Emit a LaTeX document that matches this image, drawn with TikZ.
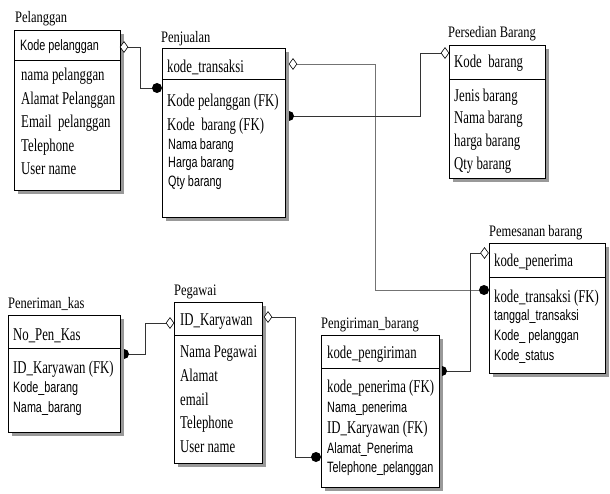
\documentclass[tikz,border=0pt]{standalone}
\usepackage{fontspec}
\newfontfamily\ttlf[FakeStretch=0.78]{Liberation Serif}
\newfontfamily\serf[FakeStretch=0.71]{Liberation Serif}
\newfontfamily\sanf[FakeStretch=0.72]{Liberation Sans}
\usetikzlibrary{shadows,shapes.geometric}
\begin{document}
\begin{tikzpicture}[x=1pt,y=-1pt,
 ent/.style={draw, line width=0.8pt, fill=white, anchor=north west, inner sep=0,
   drop shadow={shadow xshift=4pt, shadow yshift=-4pt, fill=black!40, opacity=1}},
 ttl/.style={anchor=base west, inner sep=0, font=\ttlf\fontsize{16}{16}\selectfont},
 sr/.style={anchor=base west, inner sep=0, font=\serf\fontsize{18}{18}\selectfont},
 ss/.style={anchor=base west, inner sep=0, font=\sanf\fontsize{15}{15}\selectfont},
 conn/.style={line width=0.6pt, black!80},
 diam/.style={diamond, draw, fill=white, line width=0.6pt, inner sep=0, minimum width=8pt, minimum height=11pt},
 fdot/.style={circle, fill=black, inner sep=0, minimum size=10pt},
]
\useasboundingbox (0,0) rectangle (610,494);

% ---------- entity boxes ----------
\node[ent, minimum width=106pt, minimum height=160pt] (pel) at (14,30) {};
\draw[line width=0.8pt] (14,60) -- (120,60);
\node[ent, minimum width=123pt, minimum height=169pt] (pen) at (162,48) {};
\draw[line width=0.8pt] (162,79) -- (285,79);
\node[ent, minimum width=96pt, minimum height=133pt] (per) at (449,45) {};
\draw[line width=0.8pt] (449,79) -- (545,79);
\node[ent, minimum width=116pt, minimum height=130pt] (pem) at (489,243) {};
\draw[line width=0.8pt] (489,277) -- (605,277);
\node[ent, minimum width=118pt, minimum height=152pt] (pgr) at (321,335) {};
\draw[line width=0.8pt] (321,368) -- (439,368);
\node[ent, minimum width=88pt, minimum height=161pt] (peg) at (174,302) {};
\draw[line width=0.8pt] (174,335) -- (262,335);
\node[ent, minimum width=112pt, minimum height=117pt] (kas) at (8,315) {};
\draw[line width=0.8pt] (8,348) -- (120,348);

% ---------- Pelanggan ----------
\node[ttl] (t1) at (15,23) {Pelanggan};
\node[ss] (t1h) at (20,51) {Kode pelanggan};
\node[sr] (t1a) at (21,81) {nama pelanggan};
\node[sr] (t1b) at (21,104.5) {Alamat Pelanggan};
\node[sr] (t1c) at (21,128) {Email\ \ pelanggan};
\node[sr] (t1d) at (21,151.5) {Telephone};
\node[sr] (t1e) at (21,175) {User name};

% ---------- Penjualan ----------
\node[ttl] (t2) at (161,43) {Penjualan};
\node[sr] (t2h) at (167,73) {kode\_transaksi};
\node[sr] (t2a) at (167,107) {Kode pelanggan (FK)};
\node[sr] (t2b) at (167,131) {Kode\ \ barang (FK)};
\node[ss] (t2c) at (168,150) {Nama barang};
\node[ss] (t2d) at (168,168) {Harga barang};
\node[ss] (t2e) at (168,187) {Qty barang};

% ---------- Persedian Barang ----------
\node[ttl] (t3) at (448,38) {Persedian Barang};
\node[sr] (t3h) at (454,68) {Kode\ \ barang};
\node[sr] (t3a) at (454,102) {Jenis barang};
\node[sr] (t3b) at (454,124) {Nama barang};
\node[sr] (t3c) at (454,147) {harga barang};
\node[sr] (t3d) at (454,170) {Qty barang};

% ---------- Pemesanan barang ----------
\node[ttl] (t4) at (489,237) {Pemesanan barang};
\node[sr] (t4h) at (494,267) {kode\_penerima};
\node[sr] (t4a) at (494,302) {kode\_transaksi (FK)};
\node[ss] (t4b) at (494,320) {tanggal\_transaksi};
\node[ss] (t4c) at (494,340) {Kode\_ pelanggan};
\node[ss] (t4d) at (494,360) {Kode\_status};

% ---------- Pengiriman_barang ----------
\node[ttl] (t5) at (321,328) {Pengiriman\_barang};
\node[sr] (t5h) at (327,358) {kode\_pengiriman};
\node[sr] (t5a) at (327,392) {kode\_penerima (FK)};
\node[ss] (t5b) at (327,412) {Nama\_penerima};
\node[sr] (t5c) at (327,433) {ID\_Karyawan (FK)};
\node[ss] (t5d) at (327,453) {Alamat\_Penerima};
\node[ss] (t5e) at (327,472) {Telephone\_pelanggan};

% ---------- Pegawai ----------
\node[ttl] (t6) at (174,295) {Pegawai};
\node[sr] (t6h) at (180,325) {ID\_Karyawan};
\node[sr] (t6a) at (180,357) {Nama Pegawai};
\node[sr] (t6b) at (180,381) {Alamat};
\node[sr] (t6c) at (180,405) {email};
\node[sr] (t6d) at (180,428) {Telephone};
\node[sr] (t6e) at (180,452) {User name};

% ---------- Peneriman_kas ----------
\node[ttl] (t7) at (8,308) {Peneriman\_kas};
\node[sr] (t7h) at (13,340) {No\_Pen\_Kas};
\node[sr] (t7a) at (13,373) {ID\_Karyawan (FK)};
\node[ss] (t7b) at (13,392) {Kode\_barang};
\node[ss] (t7c) at (13,412) {Nama\_barang};

% ---------- relationship end points ----------
\coordinate (d1) at (124,47);
\coordinate (c1) at (157,88);
\coordinate (d2) at (293,64);
\coordinate (c2) at (484,290);
\coordinate (c3) at (289,116);
\coordinate (d3) at (445,53);
\coordinate (d4) at (484.5,253);
\coordinate (c4) at (442,371);
\coordinate (d5) at (268,317);
\coordinate (c5) at (316,457);
\coordinate (c6) at (124,354);
\coordinate (d6) at (170,323);

% ---------- connectors ----------
\draw[conn] (d1) -- ++(16,0) |- (c1);
\draw[conn, black!55] (d2) -- ++(82,0) |- (c2);
\draw[conn] (c3) -- ++(131,0) |- (d3);
\draw[conn] (d4) -- ++(-14.5,0) |- (c4);
\draw[conn] (d5) -- ++(27,0) |- (c5);
\draw[conn] (c6) -- ++(21,0) |- (d6);

% ---------- ends on top ----------
\node[diam] (e1) at (d1) {};
\node[diam] (e2) at (d2) {};
\node[diam] (e3) at (d3) {};
\node[diam] (e4) at (d4) {};
\node[diam] (e5) at (d5) {};
\node[diam] (e6) at (d6) {};
\node[fdot] (f1) at (c1) {};
\node[fdot] (f2) at (c2) {};
\node[fdot] (f5) at (c5) {};
\fill ([yshift=5pt]c3) arc[start angle=90, end angle=-90, radius=5pt] -- cycle;
\fill ([yshift=5pt]c4) arc[start angle=90, end angle=-90, radius=5pt] -- cycle;
\fill ([yshift=5pt]c6) arc[start angle=90, end angle=-90, radius=5pt] -- cycle;
\end{tikzpicture}
\end{document}
